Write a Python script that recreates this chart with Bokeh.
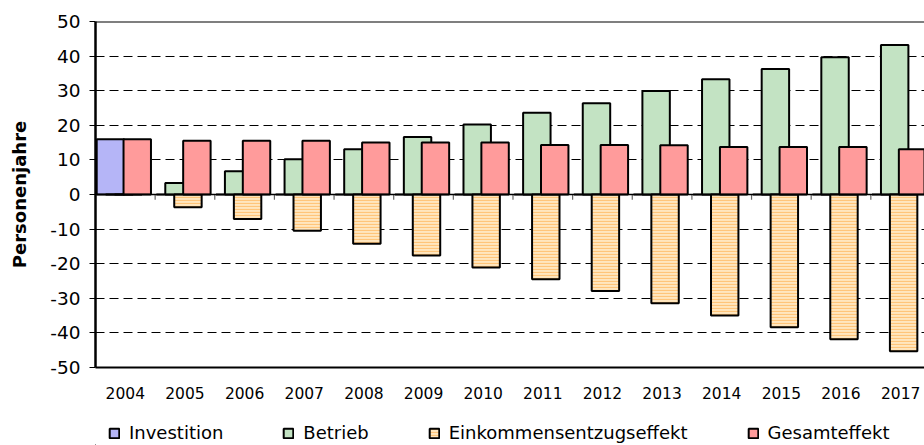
from bokeh.plotting import figure
from bokeh.layouts import column
from bokeh.models import (Range1d, FixedTicker, Span, Legend, LegendItem,
                          ColumnDataSource)
from bokeh.embed import file_html
from bokeh.resources import INLINE

years = ["2004", "2005", "2006", "2007", "2008", "2009", "2010",
         "2011", "2012", "2013", "2014", "2015", "2016", "2017"]
investition = [16.0, 0, 0, 0, 0, 0, 0, 0, 0, 0, 0, 0, 0, 0]
betrieb = [0, 3.3, 6.7, 10.2, 13.1, 16.6, 20.2, 23.6, 26.4, 29.9, 33.3, 36.3, 39.7, 43.2]
einkommen = [0, -3.7, -7.1, -10.5, -14.2, -17.6, -21.1, -24.5, -27.9, -31.4, -35.0, -38.4, -41.8, -45.3]
gesamt = [16.0, 15.5, 15.5, 15.5, 15.0, 15.0, 15.0, 14.3, 14.3, 14.2, 13.7, 13.7, 13.7, 13.1]
series_names = ["Investition", "Betrieb", "Einkommensentzugseffekt", "Gesamteffekt"]
y_ticks = [-50, -40, -30, -20, -10, 0, 10, 20, 30, 40, 50]

FONT = "DejaVu Sans"
n = len(years)
idx = list(range(n))

p = figure(width=924, height=405, output_backend="svg", toolbar_location=None,
           x_range=Range1d(0, 13.90), y_range=Range1d(-50, 50),
           min_border_left=95, min_border_right=0, min_border_top=21,
           min_border_bottom=38)
p.outline_line_color = None
p.background_fill_color = "white"
p.border_fill_color = "white"

# grid
p.xgrid.visible = False
p.ygrid.ticker = FixedTicker(ticks=[t for t in y_ticks if t not in (0, 50, -50)])
p.ygrid.grid_line_color = "black"
p.ygrid.grid_line_dash = "9 5"
p.ygrid.grid_line_width = 1

# y axis
p.yaxis.ticker = FixedTicker(ticks=y_ticks)
p.yaxis.major_label_overrides = {t: str(t) for t in y_ticks}
p.yaxis.minor_tick_line_color = None
p.yaxis.major_tick_out = 6
p.yaxis.major_tick_in = 0
p.yaxis.axis_line_width = 2.5
p.yaxis.major_label_standoff = 9
p.yaxis.major_label_text_font = FONT
p.yaxis.major_label_text_font_size = "18.5px"
p.yaxis.major_label_text_color = "black"
p.yaxis.axis_label = "Personenjahre"
p.yaxis.axis_label_text_font = FONT
p.yaxis.axis_label_text_font_size = "18px"
p.yaxis.axis_label_text_font_style = "bold"
p.yaxis.axis_label_text_color = "black"
p.yaxis.axis_label_standoff = 17

# x axis (labels at bottom)
centers = [i + 0.5 for i in idx]
p.xaxis.ticker = FixedTicker(ticks=centers)
p.xaxis.major_label_overrides = {c: y for c, y in zip(centers, years)}
p.xaxis.major_tick_out = 0
p.xaxis.major_tick_in = 0
p.xaxis.minor_tick_line_color = None
p.xaxis.axis_line_width = 2
p.xaxis.major_label_standoff = 19
p.xaxis.major_label_text_font = FONT
p.xaxis.major_label_text_font_size = "15.5px"
p.xaxis.major_label_text_color = "black"

# top border line and zero line
p.add_layout(Span(location=50, dimension="width", line_color="black", line_width=2))
p.add_layout(Span(location=0, dimension="width", line_color="black", line_width=1.5))

# category tick marks on the zero line
bounds = [i for i in idx[1:]]
p.segment(x0=bounds, x1=bounds, y0=[0] * len(bounds), y1=[-1.5] * len(bounds),
          line_color="#666666", line_width=1.2)

W = 0.46
offsets = [0.25, 0.40, 0.55, 0.70]
cols = [investition, betrieb, einkommen, gesamt]
fills = ["#b5b5f7", "#c3e3c3", "#ffe6bf", "#ff9b9b"]
styles = []
for k, col in enumerate(fills):
    kw = dict(fill_color=col, line_color="black", line_width=2)
    if k == 2:
        kw.update(hatch_pattern="horizontal_line", hatch_color="#ffc57a",
                  hatch_scale=3, hatch_weight=1.2)
    styles.append(kw)

for k, vals in enumerate(cols):
    src = ColumnDataSource(dict(x=[i + offsets[k] for i in idx], top=vals,
                                bottom=[0] * n))
    p.vbar(x="x", top="top", bottom="bottom", width=W, source=src, **styles[k])

# legend strip below the chart (its frame is aligned with the chart's frame)
lf = figure(width=924, height=40, output_backend="svg", toolbar_location=None,
            x_range=Range1d(0, 1), y_range=Range1d(0, 1),
            min_border_left=0, min_border_right=0, min_border_top=0,
            min_border_bottom=0)
lf.axis.visible = False
lf.grid.visible = False
lf.outline_line_color = None
lf.background_fill_color = "white"
lf.border_fill_color = "white"
leg_renderers = []
for k in range(len(series_names)):
    # one proxy bar per series, lying outside the visible range
    r = lf.vbar(x=[-5], top=[0], bottom=[0], width=0.1, **styles[k])
    leg_renderers.append(r)

legend = Legend(items=[LegendItem(label=nm, renderers=[r])
                       for nm, r in zip(series_names, leg_renderers)],
                orientation="horizontal", location=(13, 2),
                glyph_width=12, glyph_height=12, label_standoff=9, spacing=59,
                padding=0, margin=0, label_height=12,
                label_text_font=FONT, label_text_font_size="18px",
                label_text_color="black", border_line_color=None,
                background_fill_alpha=0)
lf.add_layout(legend, "center")

layout = column(p, lf, spacing=0)
open("out.html", "w").write(file_html(layout, INLINE))
